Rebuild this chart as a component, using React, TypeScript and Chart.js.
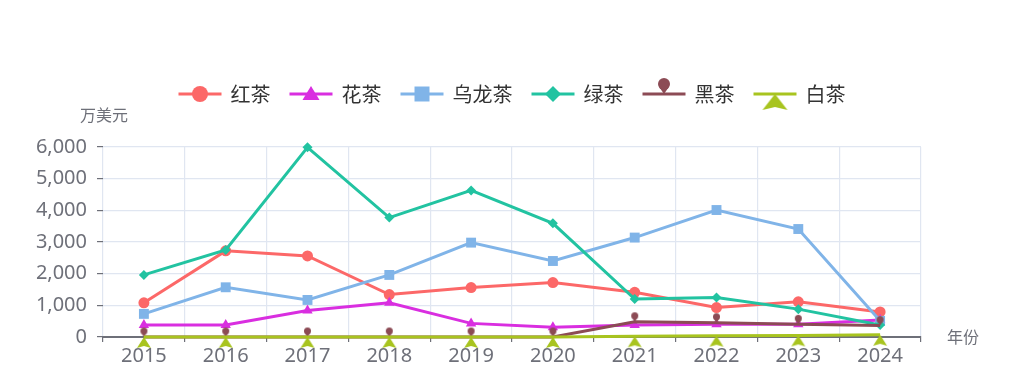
import React, { useEffect, useRef } from 'react';
import { Chart, registerables } from 'chart.js';

Chart.register(...registerables);

const years = ['2015', '2016', '2017', '2018', '2019', '2020', '2021', '2022', '2023', '2024'];
const seriesNames = ['红茶', '花茶', '乌龙茶', '绿茶', '黑茶', '白茶'];
const hongCha = [1080, 2720, 2560, 1340, 1560, 1720, 1410, 930, 1110, 790];
const huaCha = [380, 380, 840, 1080, 430, 310, 380, 400, 400, 540];
const wulongCha = [730, 1570, 1170, 1960, 2980, 2400, 3140, 4010, 3410, 510];
const lvCha = [1960, 2750, 5990, 3770, 4630, 3590, 1200, 1250, 880, 380];
const heiCha = [0, 0, 0, 0, 0, 0, 480, 450, 400, 360];
const baiCha = [0, 0, 0, 0, 0, 0, 20, 40, 50, 70];
const yMax = 6000;
const yStep = 1000;
const yAxisName = '万美元';
const xAxisName = '年份';

const colors = ['#fc6868', '#d92ee0', '#80b4e8', '#22c3a1', '#8c4b55', '#a8c41f'];

function makePin(color: string, headR: number, headOffset: number): HTMLCanvasElement {
  const h = Math.ceil((headOffset + headR + 2) * 2);
  const w = Math.ceil(headR * 2 + 4);
  const c = document.createElement('canvas');
  c.width = w;
  c.height = h;
  const ctx = c.getContext('2d')!;
  const cx = w / 2;
  const cy = h / 2;
  const hy = cy - headOffset;
  ctx.fillStyle = color;
  ctx.beginPath();
  ctx.arc(cx, hy, headR, 0, Math.PI * 2);
  ctx.fill();
  ctx.beginPath();
  ctx.moveTo(cx - headR * 0.8, hy + headR * 0.5);
  ctx.lineTo(cx + headR * 0.8, hy + headR * 0.5);
  ctx.lineTo(cx, cy);
  ctx.closePath();
  ctx.fill();
  return c;
}

function makeArrow(color: string, halfW: number, height: number): HTMLCanvasElement {
  const h = Math.ceil(height * 2 + 2);
  const w = Math.ceil(halfW * 2 + 2);
  const c = document.createElement('canvas');
  c.width = w;
  c.height = h;
  const ctx = c.getContext('2d')!;
  const cx = w / 2;
  const cy = h / 2;
  ctx.fillStyle = color;
  ctx.beginPath();
  ctx.moveTo(cx, cy);
  ctx.lineTo(cx + halfW, cy + height);
  ctx.lineTo(cx, cy + height * 0.82);
  ctx.lineTo(cx - halfW, cy + height);
  ctx.closePath();
  ctx.fill();
  return c;
}

export default function App() {
  const ref = useRef<HTMLCanvasElement | null>(null);

  useEffect(() => {
    if (!ref.current) return;
    const pinSmall = makePin(colors[4], 3.5, 6);
    const pinBig = makePin(colors[4], 6, 10);
    const arrowSmall = makeArrow(colors[5], 7, 11);
    const arrowBig = makeArrow(colors[5], 12.5, 16);

    const values = [hongCha, huaCha, wulongCha, lvCha, heiCha, baiCha];
    const styles: any[] = ['circle', 'triangle', 'rect', 'rectRot', pinSmall, arrowSmall];
    const radii = [5.5, 6, 7, 5, 5, 5];

    const datasets = values.map((v, i) => ({
      label: seriesNames[i],
      data: v,
      borderColor: colors[i],
      backgroundColor: colors[i],
      pointBackgroundColor: colors[i],
      pointBorderColor: colors[i],
      pointBorderWidth: 0,
      pointStyle: styles[i],
      pointRadius: radii[i],
      borderWidth: 3,
      tension: 0,
      clip: false as any,
      order: 5 - i,
    }));

    const sans = "'Noto Sans', 'Noto Sans CJK SC', sans-serif";
    const cjk = "'Noto Sans CJK SC', 'Noto Sans', sans-serif";

    const legendPlugin = {
      id: 'customLegend',
      afterDraw(chart: any) {
        const ctx = chart.ctx as CanvasRenderingContext2D;
        ctx.save();
        ctx.font = `20px ${cjk}`;
        const iconW = 43;
        const gapText = 9;
        const gapItem = 19;
        const widths = seriesNames.map((n) => iconW + gapText + ctx.measureText(n).width);
        const total = widths.reduce((a, b) => a + b, 0) + gapItem * (widths.length - 1);
        let x = chart.width / 2 - total / 2;
        const y = 94;
        seriesNames.forEach((name, i) => {
          const col = colors[i];
          ctx.strokeStyle = col;
          ctx.lineWidth = 3;
          ctx.beginPath();
          ctx.moveTo(x, y);
          ctx.lineTo(x + iconW, y);
          ctx.stroke();
          const cx = x + iconW / 2;
          ctx.fillStyle = col;
          ctx.beginPath();
          if (i === 0) {
            ctx.arc(cx, y, 8, 0, Math.PI * 2);
            ctx.fill();
          } else if (i === 1) {
            ctx.moveTo(cx, y - 8);
            ctx.lineTo(cx + 8.5, y + 6);
            ctx.lineTo(cx - 8.5, y + 6);
            ctx.closePath();
            ctx.fill();
          } else if (i === 2) {
            ctx.rect(cx - 7.5, y - 7.5, 15, 15);
            ctx.fill();
          } else if (i === 3) {
            ctx.moveTo(cx, y - 8);
            ctx.lineTo(cx + 8, y);
            ctx.lineTo(cx, y + 8);
            ctx.lineTo(cx - 8, y);
            ctx.closePath();
            ctx.fill();
          } else if (i === 4) {
            ctx.drawImage(pinBig, cx - pinBig.width / 2, y - pinBig.height / 2);
          } else {
            ctx.drawImage(arrowBig, cx - arrowBig.width / 2, y - arrowBig.height / 2);
          }
          ctx.fillStyle = '#333333';
          ctx.textAlign = 'left';
          ctx.textBaseline = 'middle';
          ctx.fillText(name, x + iconW + gapText, y);
          x += widths[i] + gapItem;
        });

        // axis names
        const area = chart.chartArea;
        ctx.fillStyle = '#6e7079';
        ctx.font = `16px ${cjk}`;
        ctx.textAlign = 'center';
        ctx.textBaseline = 'middle';
        ctx.fillText(yAxisName, area.left + 1, 115);
        ctx.textAlign = 'left';
        ctx.fillText(xAxisName, area.right + 26, area.bottom);
        ctx.restore();
      },
    };

    const chart = new Chart(ref.current, {
      type: 'line',
      data: { labels: years, datasets },
      options: {
        animation: false,
        responsive: true,
        maintainAspectRatio: false,
        layout: { padding: { top: 147, right: 103, bottom: 0, left: 0 } },
        plugins: {
          legend: { display: false },
          tooltip: { enabled: false },
        },
        scales: {
          x: {
            offset: true,
            grid: {
              offset: true,
              color: '#e0e6f1',
              lineWidth: 1.2,
              tickColor: '#6e7079',
              tickLength: 5,
              drawTicks: true,
            },
            border: { color: '#6e7079', width: 2 },
            ticks: {
              color: '#6e7079',
              font: { size: 20, family: sans },
              padding: 2,
              maxRotation: 0,
              autoSkip: false,
            },
            afterFit: (scale: any) => {
              scale.height = 29;
            },
          },
          y: {
            min: 0,
            max: yMax,
            grid: {
              color: '#e0e6f1',
              lineWidth: 1.2,
              tickColor: '#6e7079',
              tickLength: 6,
            },
            border: { display: false },
            ticks: {
              stepSize: yStep,
              color: '#6e7079',
              font: { size: 20, family: sans },
              padding: 10,
              callback: (v: any) => Number(v).toLocaleString('en-US'),
            },
            afterFit: (scale: any) => {
              scale.width = 103;
            },
          },
        },
      },
      plugins: [legendPlugin],
    });
    return () => chart.destroy();
  }, []);

  return (
    <div style={{ position: 'absolute', left: 0, top: 0, width: 1024, height: 366, background: '#fff' }}>
      <canvas ref={ref} />
    </div>
  );
}
